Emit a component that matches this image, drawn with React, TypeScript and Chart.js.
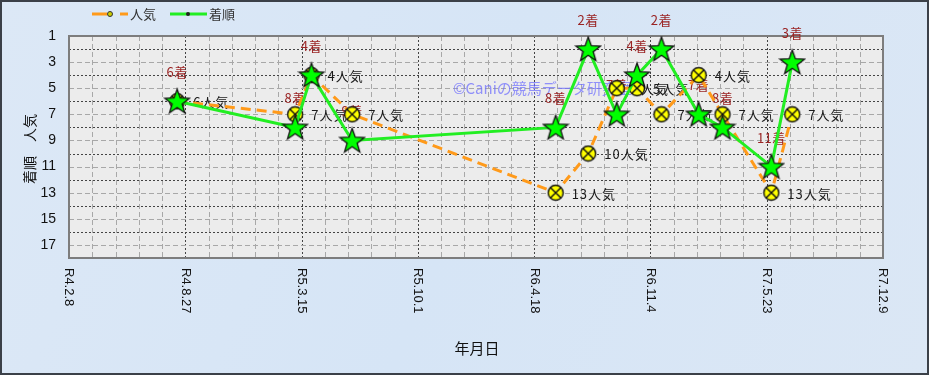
import React, { useEffect, useRef } from "react";
import { Chart, registerables } from "chart.js";

Chart.register(...registerables);

// ---- data ----
const BASE_DATE = "2022-02-08";
const TICK_STEP_DAYS = 200;
const X_TICK_LABELS = ["R4.2.8", "R4.8.27", "R5.3.15", "R5.10.1", "R6.4.18", "R6.11.4", "R7.5.23", "R7.12.9"];
const RACE_DATES = [
  "2022-08-13", "2023-03-04", "2023-04-01", "2023-06-10", "2024-05-25", "2024-07-20",
  "2024-09-07", "2024-10-12", "2024-11-23", "2025-01-26", "2025-03-08", "2025-05-31", "2025-07-06",
];
const POPULARITY = [6, 7, 4, 7, 13, 10, 5, 5, 7, 4, 7, 13, 7];
const FINISH = [6, 8, 4, 9, 8, 2, 7, 4, 2, 7, 8, 11, 3];
const Y_MIN = 1;
const Y_MAX = 18;
const SERIES_NAMES = ["人気", "着順"];
const WATERMARK = "©Caniの競馬データ研究室";
const X_TITLE = "年月日";
const Y_TITLE = "着順　人気";

const JP_FONT = '"Noto Sans CJK JP", "Noto Sans", sans-serif';
const NUM_FONT = '"Liberation Sans", Arial, sans-serif';

function dayOf(s: string): number {
  const [y, m, d] = s.split("-").map(Number);
  const [by, bm, bd] = BASE_DATE.split("-").map(Number);
  return Math.round((Date.UTC(y, m - 1, d) - Date.UTC(by, bm - 1, bd)) / 86400000);
}

function makeCircleMarker(): HTMLCanvasElement {
  const c = document.createElement("canvas");
  c.width = 18;
  c.height = 18;
  const g = c.getContext("2d")!;
  const cx = 9, cy = 9, r = 7.5;
  g.beginPath();
  g.arc(cx, cy, r, 0, Math.PI * 2);
  g.fillStyle = "#ffff00";
  g.fill();
  g.lineWidth = 1.4;
  g.strokeStyle = "#111";
  g.stroke();
  const k = r * Math.SQRT1_2;
  g.beginPath();
  g.moveTo(cx - k, cy - k);
  g.lineTo(cx + k, cy + k);
  g.moveTo(cx + k, cy - k);
  g.lineTo(cx - k, cy + k);
  g.stroke();
  return c;
}

function makeStarMarker(): HTMLCanvasElement {
  const c = document.createElement("canvas");
  c.width = 28;
  c.height = 28;
  const g = c.getContext("2d")!;
  const cx = 14, cy = 15, ro = 13, ri = 5.3;
  g.beginPath();
  for (let i = 0; i < 10; i++) {
    const r = i % 2 === 0 ? ro : ri;
    const a = -Math.PI / 2 + (i * Math.PI) / 5;
    const x = cx + r * Math.cos(a);
    const y = cy + r * Math.sin(a);
    if (i === 0) g.moveTo(x, y);
    else g.lineTo(x, y);
  }
  g.closePath();
  g.fillStyle = "#00ff00";
  g.fill();
  g.lineWidth = 1.3;
  g.strokeStyle = "#111";
  g.stroke();
  return c;
}

const decorPlugin = {
  id: "decor",
  beforeDraw(chart: any) {
    const { ctx, width, height, chartArea: a } = chart;
    const xs = chart.scales.x;
    const ys = chart.scales.y;
    ctx.save();
    const bg = ctx.createLinearGradient(0, 0, width, height);
    bg.addColorStop(0, "#dce8f6");
    bg.addColorStop(0.5, "#d6e5f6");
    bg.addColorStop(1, "#dbe7f5");
    ctx.fillStyle = bg;
    ctx.fillRect(0, 0, width, height);
    ctx.strokeStyle = "#3b4048";
    ctx.lineWidth = 2;
    ctx.strokeRect(1, 1, width - 2, height - 2);
    ctx.fillStyle = "#ececec";
    ctx.fillRect(a.left, a.top, a.right - a.left, a.bottom - a.top);
    const minor = TICK_STEP_DAYS / 5;
    for (let v = xs.min + minor; v < xs.max; v += minor) {
      const x = Math.round(xs.getPixelForValue(v)) + 0.5;
      const major = Math.abs((v - xs.min) % TICK_STEP_DAYS) < 1e-6;
      ctx.beginPath();
      ctx.setLineDash(major ? [2, 2] : [5, 3]);
      ctx.strokeStyle = major ? "#444" : "#a8a8a8";
      ctx.lineWidth = 1;
      ctx.moveTo(x, a.top);
      ctx.lineTo(x, a.bottom);
      ctx.stroke();
    }
    for (let v = Y_MIN + 1; v < Y_MAX; v++) {
      const y = Math.round(ys.getPixelForValue(v)) + 0.5;
      const major = v % 2 === 0;
      ctx.beginPath();
      ctx.setLineDash(major ? [2, 2] : [5, 3]);
      ctx.strokeStyle = major ? "#444" : "#a8a8a8";
      ctx.lineWidth = 1;
      ctx.moveTo(a.left, y);
      ctx.lineTo(a.right, y);
      ctx.stroke();
    }
    ctx.setLineDash([]);
    ctx.strokeStyle = "#7d7d7d";
    ctx.lineWidth = 2;
    ctx.strokeRect(a.left, a.top, a.right - a.left, a.bottom - a.top);
    ctx.restore();
  },
  beforeDatasetsDraw(chart: any) {
    const { ctx } = chart;
    ctx.save();
    ctx.font = `15px ${JP_FONT}`;
    ctx.fillStyle = "rgba(105,105,255,0.7)";
    ctx.textAlign = "left";
    ctx.textBaseline = "middle";
    ctx.fillText(WATERMARK, 453, 88);
    const mPop = chart.getDatasetMeta(0);
    const mFin = chart.getDatasetMeta(1);
    ctx.font = `13px ${JP_FONT}`;
    (ctx as any).letterSpacing = "1px";
    ctx.fillStyle = "#1a1a1a";
    ctx.textAlign = "left";
    mPop.data.forEach((pt: any, i: number) => {
      ctx.fillText(`${POPULARITY[i]}人気`, pt.x + 16, pt.y + 1);
    });
    (ctx as any).letterSpacing = "0.5px";
    ctx.fillStyle = "#9a2424";
    ctx.textAlign = "center";
    mFin.data.forEach((pt: any, i: number) => {
      ctx.fillText(`${FINISH[i]}着`, pt.x, pt.y - 29);
    });
    ctx.restore();
  },
  afterDraw(chart: any) {
    const { ctx, chartArea: a } = chart;
    const xs = chart.scales.x;
    ctx.save();
    ctx.font = `13px ${NUM_FONT}`;
    ctx.fillStyle = "#111";
    ctx.textAlign = "left";
    ctx.textBaseline = "middle";
    xs.ticks.forEach((t: any, i: number) => {
      const x = xs.getPixelForValue(t.value);
      ctx.save();
      ctx.translate(x, a.bottom + 10);
      ctx.rotate(Math.PI / 2);
      ctx.fillText(X_TICK_LABELS[i] ?? "", 0, 0);
      ctx.restore();
    });
    ctx.font = `15px ${JP_FONT}`;
    ctx.textAlign = "center";
    ctx.fillText(X_TITLE, 477, 348);
    ctx.save();
    ctx.translate(30, 149);
    ctx.rotate(-Math.PI / 2);
    ctx.font = `14px ${JP_FONT}`;
    ctx.fillText(Y_TITLE, 0, 0);
    ctx.restore();
    const ly = 14;
    ctx.lineWidth = 3;
    ctx.strokeStyle = "#ff9a1a";
    ctx.beginPath();
    ctx.moveTo(92, ly);
    ctx.lineTo(107, ly);
    ctx.moveTo(120, ly);
    ctx.lineTo(128, ly);
    ctx.stroke();
    ctx.beginPath();
    ctx.arc(110, ly, 2.5, 0, Math.PI * 2);
    ctx.fillStyle = "#cccc00";
    ctx.fill();
    ctx.lineWidth = 1;
    ctx.strokeStyle = "#333";
    ctx.stroke();
    ctx.lineWidth = 3;
    ctx.strokeStyle = "#22ee22";
    ctx.beginPath();
    ctx.moveTo(170, ly);
    ctx.lineTo(207, ly);
    ctx.stroke();
    ctx.beginPath();
    ctx.arc(188, ly, 2, 0, Math.PI * 2);
    ctx.fillStyle = "#222";
    ctx.fill();
    ctx.font = `13px ${JP_FONT}`;
    ctx.fillStyle = "#333";
    ctx.textAlign = "left";
    ctx.fillText(SERIES_NAMES[0], 130, ly);
    ctx.fillText(SERIES_NAMES[1], 209, ly);
    ctx.restore();
  },
};

export default function App() {
  const ref = useRef<HTMLCanvasElement | null>(null);

  useEffect(() => {
    document.body.style.margin = "0";
    const canvas = ref.current;
    if (!canvas) return;
    const xs = RACE_DATES.map(dayOf);
    const circle = makeCircleMarker();
    const star = makeStarMarker();
    const chart = new Chart(canvas, {
      type: "line",
      data: {
        datasets: [
          {
            label: SERIES_NAMES[0],
            data: xs.map((x, i) => ({ x, y: POPULARITY[i] })),
            borderColor: "#ff9a1a",
            borderWidth: 3,
            borderDash: [10, 6],
            pointStyle: circle as any,
            pointRadius: 9,
            pointHoverRadius: 9,
            tension: 0,
            order: 2,
          },
          {
            label: SERIES_NAMES[1],
            data: xs.map((x, i) => ({ x, y: FINISH[i] })),
            borderColor: "#22ee22",
            borderWidth: 3,
            pointStyle: star as any,
            pointRadius: 13,
            pointHoverRadius: 13,
            tension: 0,
            order: 1,
          },
        ],
      },
      options: {
        animation: false,
        responsive: false,
        events: [],
        layout: { padding: { top: 36, right: 46, left: 0, bottom: 0 } },
        plugins: { legend: { display: false }, tooltip: { enabled: false } },
        scales: {
          x: {
            type: "linear",
            min: 0,
            max: (X_TICK_LABELS.length - 1) * TICK_STEP_DAYS,
            ticks: { display: false, stepSize: TICK_STEP_DAYS },
            grid: { display: false, drawTicks: false },
            border: { display: false },
            afterFit: (s: any) => {
              s.height = 117;
            },
          },
          y: {
            type: "linear",
            reverse: true,
            min: Y_MIN,
            max: Y_MAX,
            ticks: {
              stepSize: 1,
              autoSkip: false,
              padding: 13,
              color: "#111",
              font: { family: NUM_FONT, size: 14 },
              callback: (v: any) => (Number(v) % 2 === 1 ? String(v) : ""),
            },
            grid: { display: false, drawTicks: false },
            border: { display: false },
            afterFit: (s: any) => {
              s.width = 69;
            },
          },
        },
      },
      plugins: [decorPlugin],
    });
    return () => chart.destroy();
  }, []);

  return <canvas ref={ref} width={929} height={375} style={{ display: "block" }} />;
}
